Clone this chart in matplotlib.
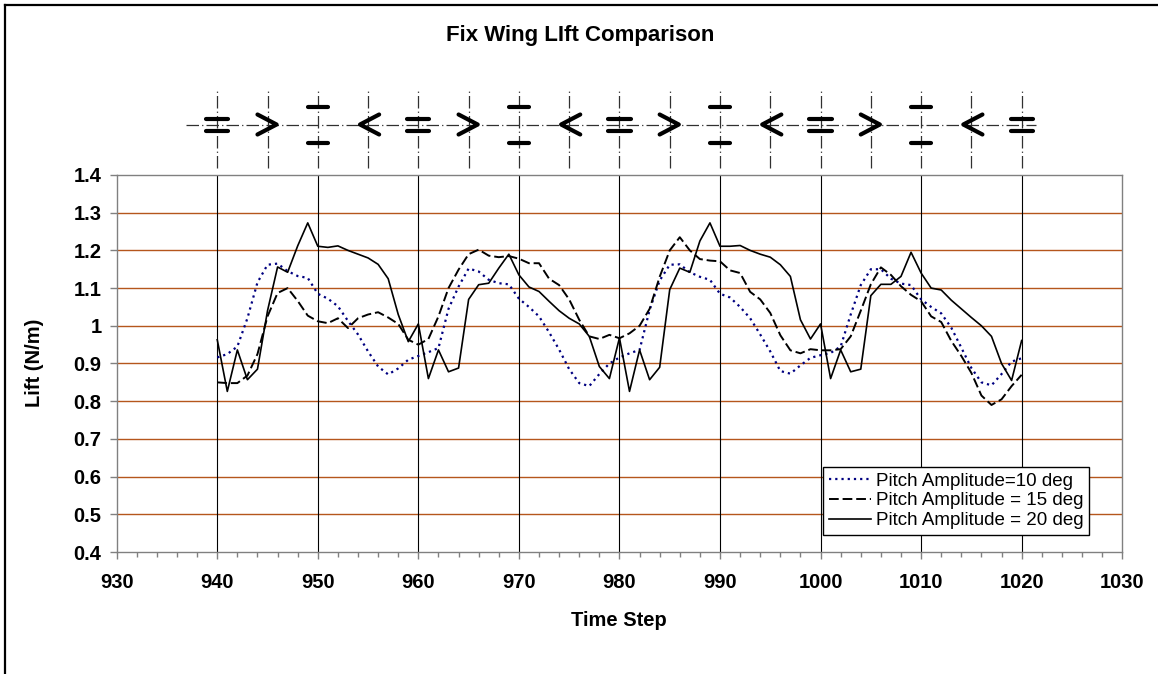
import numpy as np
import matplotlib.pyplot as plt
from matplotlib.lines import Line2D

plt.rcParams['font.family'] = ['Liberation Sans', 'DejaVu Sans']

# lift values, one per time step
time_step = np.arange(940, 1021)

lift_10 = [0.916, 0.925, 0.945, 1.020, 1.115, 1.162, 1.165, 1.145, 1.132, 1.127,
           1.085, 1.072, 1.052, 1.013, 0.977, 0.932, 0.892, 0.871, 0.887, 0.910,
           0.920, 0.930, 0.941, 1.045, 1.104, 1.152, 1.144, 1.122, 1.113, 1.110,
           1.072, 1.050, 1.025, 0.983, 0.937, 0.885, 0.848, 0.840, 0.872, 0.900,
           0.916, 0.927, 0.936, 1.042, 1.120, 1.162, 1.163, 1.142, 1.130, 1.122,
           1.085, 1.075, 1.050, 1.020, 0.977, 0.932, 0.880, 0.873, 0.895, 0.915,
           0.922, 0.928, 0.945, 1.030, 1.108, 1.150, 1.150, 1.125, 1.112, 1.108,
           1.070, 1.050, 1.033, 0.995, 0.942, 0.888, 0.850, 0.842, 0.872, 0.905,
           0.914]

lift_15 = [0.850, 0.848, 0.848, 0.868, 0.925, 1.025, 1.087, 1.100, 1.066, 1.027,
           1.012, 1.007, 1.020, 0.994, 1.020, 1.030, 1.036, 1.022, 1.005, 0.963,
           0.950, 0.965, 1.025, 1.100, 1.149, 1.190, 1.202, 1.186, 1.182, 1.185,
           1.178, 1.166, 1.166, 1.125, 1.108, 1.070, 1.016, 0.972, 0.965, 0.976,
           0.967, 0.980, 1.000, 1.045, 1.130, 1.200, 1.235, 1.200, 1.177, 1.173,
           1.171, 1.147, 1.140, 1.090, 1.070, 1.034, 0.975, 0.935, 0.927, 0.938,
           0.935, 0.935, 0.938, 0.972, 1.040, 1.110, 1.155, 1.135, 1.105, 1.082,
           1.065, 1.025, 1.010, 0.960, 0.920, 0.875, 0.815, 0.790, 0.805, 0.840,
           0.870]

lift_20 = [0.963, 0.826, 0.936, 0.857, 0.885, 1.040, 1.156, 1.142, 1.212, 1.273,
           1.211, 1.208, 1.212, 1.200, 1.190, 1.180, 1.163, 1.125, 1.030, 0.958,
           1.005, 0.860, 0.936, 0.878, 0.888, 1.070, 1.109, 1.113, 1.153, 1.190,
           1.135, 1.103, 1.091, 1.065, 1.040, 1.020, 1.005, 0.972, 0.892, 0.860,
           0.968, 0.826, 0.936, 0.857, 0.890, 1.096, 1.153, 1.142, 1.225, 1.273,
           1.211, 1.211, 1.213, 1.200, 1.190, 1.182, 1.162, 1.131, 1.016, 0.965,
           1.005, 0.860, 0.936, 0.878, 0.885, 1.080, 1.110, 1.110, 1.131, 1.195,
           1.140, 1.100, 1.095, 1.068, 1.045, 1.022, 1.000, 0.972, 0.900, 0.855,
           0.961]

series_labels = ['Pitch Amplitude=10 deg', 'Pitch Amplitude = 15 deg',
                 'Pitch Amplitude = 20 deg']

# wing position sketches above the plot
wing_steps = np.arange(940, 1021, 5)
wing_shapes = ['=', '>', '||', '<'] * 4 + ['=']

y_ticks = [0.4, 0.5, 0.6, 0.7, 0.8, 0.9, 1.0, 1.1, 1.2, 1.3, 1.4]
y_ticklabels = ['0.4', '0.5', '0.6', '0.7', '0.8', '0.9', '1', '1.1', '1.2', '1.3', '1.4']
x_ticks = np.arange(930, 1031, 10)

W, H = 1158, 674


def fx(px):
    return px / W


def fy(py):
    return 1 - py / H


fig = plt.figure(figsize=(W / 100, H / 100), dpi=100)

left, right = 116.7, 1122.2
ax = fig.add_axes([fx(left), fy(552), fx(right) - fx(left), fy(175) - fy(552)])
ax.set_xlim(930, 1030)
ax.set_ylim(0.4, 1.4)

for y in y_ticks[1:-1]:
    ax.axhline(y, color='#B5561C', lw=1.0, zorder=1)
for x in range(940, 1021, 10):
    ax.axvline(x, color='black', lw=0.8, zorder=1)

ax.plot(time_step, lift_10, color='#000080', lw=1.6, ls=(0, (1, 1.8)),
        label=series_labels[0], zorder=3)
ax.plot(time_step, lift_15, color='black', lw=1.4, ls=(0, (5, 2)),
        label=series_labels[1], zorder=3)
ax.plot(time_step, lift_20, color='black', lw=1.2,
        label=series_labels[2], zorder=3)

for sp in ax.spines.values():
    sp.set_color('#808080')
    sp.set_linewidth(1)

ax.set_xticks(x_ticks, [str(v) for v in x_ticks], fontsize=14.5, fontweight='bold')
ax.set_xticks(np.arange(930, 1031, 2), minor=True)
ax.set_yticks(y_ticks, y_ticklabels, fontsize=14.5, fontweight='bold')
ax.tick_params(axis='x', which='major', direction='out', length=5, width=1,
               color='#808080', pad=10)
ax.tick_params(axis='x', which='minor', direction='out', length=3.6, width=1,
               color='#808080')
ax.tick_params(axis='y', direction='out', length=5, width=1, color='#808080', pad=6)

leg = ax.legend(loc='lower left', bbox_to_anchor=(fx(823), fy(535)),
                bbox_transform=fig.transFigure, fancybox=False, framealpha=1,
                edgecolor='black', borderaxespad=0, fontsize=13.5,
                handlelength=2.25, handletextpad=0.27, labelspacing=0.15,
                borderpad=0.3)
leg.get_frame().set_linewidth(1)

# wing sketch strip
wax = fig.add_axes([fx(left), fy(170), fx(right) - fx(left), fy(85) - fy(170)])
wax.set_xlim(930, 1030)
wax.set_ylim(-45, 40)
wax.axis('off')
dashdot = (0, (10, 2.5, 1, 2.5))
wax.plot([936.9, 1021.4], [0, 0], color='#303030', lw=0.9, ls=dashdot)
bar = dict(color='black', lw=3, solid_capstyle='round')
for x0, shape in zip(wing_steps, wing_shapes):
    wax.plot([x0, x0], [-43, 37], color='#303030', lw=0.9, ls=dashdot)
    if shape == '=':
        wax.plot([x0 - 1.1, x0 + 1.1], [5.8, 5.8], **bar)
        wax.plot([x0 - 1.1, x0 + 1.1], [-5.8, -5.8], **bar)
    elif shape == '||':
        wax.plot([x0 - 1.0, x0 + 1.0], [18.3, 18.3], **bar)
        wax.plot([x0 - 1.0, x0 + 1.0], [-18.3, -18.3], **bar)
    elif shape == '>':
        wax.plot([x0 - 1.0, x0 + 0.9, x0 - 1.0], [10.5, 0.5, -9.5], **bar)
    else:
        wax.plot([x0 + 1.1, x0 - 0.8, x0 + 1.1], [10.5, 0.5, -9.5], **bar)

fig.text(fx(580), fy(36), 'Fix Wing LIft Comparison', ha='center', va='center',
         fontsize=16, fontweight='bold')
fig.text(fx(619), fy(621), 'Time Step', ha='center', va='center',
         fontsize=14.5, fontweight='bold')
fig.text(fx(35), fy(363), 'Lift (N/m)', ha='center', va='center', rotation=90,
         fontsize=14.5, fontweight='bold')

# chart area border (only left and top visible)
fig.add_artist(Line2D([fx(5), fx(5)], [fy(5), -0.05], color='black', lw=1.6,
                      transform=fig.transFigure))
fig.add_artist(Line2D([fx(5), 1.05], [fy(5), fy(5)], color='black', lw=1.6,
                      transform=fig.transFigure))

fig.savefig('out.png', dpi=100)
